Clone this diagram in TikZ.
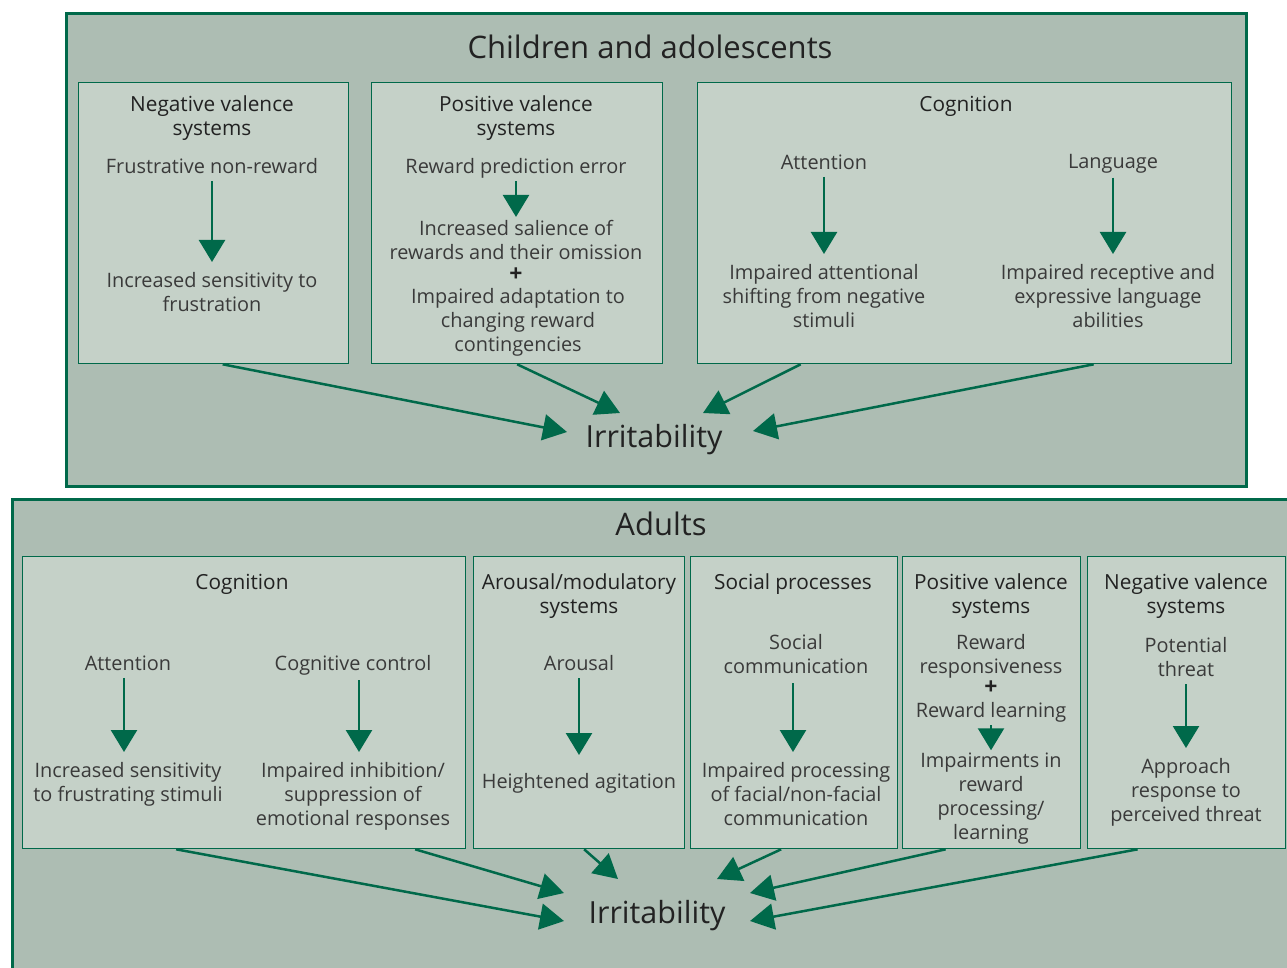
\documentclass[tikz,border=0pt]{standalone}
\usepackage{fontspec}
\setmainfont{Open Sans}
\usetikzlibrary{positioning, calc, arrows.meta}

\definecolor{dgreen}{HTML}{00694A}
\definecolor{outfill}{HTML}{ADBDB3}
\definecolor{infill}{HTML}{C5D1C8}
\definecolor{headtxt}{HTML}{222222}
\definecolor{bodytxt}{HTML}{3A3A3A}

\begin{document}
\begin{tikzpicture}[x=1pt, y=-1pt,
		outer/.style={rectangle, draw=dgreen, line width=3pt, fill=outfill, inner sep=0pt, anchor=north west},
		panel/.style={rectangle, draw=dgreen, line width=1.3pt, fill=infill, inner sep=0pt, anchor=north west},
		head/.style={font=\fontsize{20.8}{24}\selectfont, text=headtxt, align=center, inner sep=0pt, text depth=4.5pt, yshift=-3pt},
		txt/.style={font=\fontsize{19.9}{24}\selectfont, text=bodytxt, align=center, inner sep=0pt, text depth=4.5pt, yshift=-3pt},
		title/.style={font=\fontsize{31}{36}\selectfont, text=headtxt, inner sep=0pt},
		irrlabel/.style={font=\fontsize{30.5}{36}\selectfont, text=headtxt, inner sep=0pt},
		plus/.style={font=\fontsize{23}{23}\selectfont\bfseries, text=headtxt, inner sep=0pt},
		down/.style={-{Triangle[length=22pt, width=26pt]}, line width=2.5pt, draw=dgreen},
		toirr/.style={-{Triangle[length=24pt, width=26pt]}, line width=2.5pt, draw=dgreen}
	]
	\useasboundingbox (0,0) rectangle (1287,967);

	% children and adolescents
	\node[outer, minimum width=1180, minimum height=473] (cy) at (65,12) {};
	\node[title] (cytitle) at (650,47) {Children and adolescents};

	\node[panel, minimum width=270, minimum height=281] (nvs) at (78,82) {};
	\node[panel, minimum width=291, minimum height=281] (pvs) at (371,82) {};
	\node[panel, minimum width=534, minimum height=281] (cog) at (697,82) {};

	\node[head] (nvshead) at (212,115) {Negative valence\\systems};
	\node[txt] (fnr) at (212,165) {Frustrative non-reward};
	\node[txt] (isf) at (212,291) {Increased sensitivity to\\frustration};

	\node[head] (pvshead) at (516,115) {Positive valence\\systems};
	\node[txt] (rpe) at (516,165) {Reward prediction error};
	\node[txt] (isr) at (516,239) {Increased salience of\\rewards and their omission};
	\node[plus] (pplus) at (516,275) {+};
	\node[txt] (iad) at (518,319) {Impaired adaptation to\\changing reward\\contingencies};

	\node[head] (coghead) at (966,103) {Cognition};
	\node[txt] (att) at (824,161) {Attention};
	\node[txt] (ias) at (824,295) {Impaired attentional\\shifting from negative\\stimuli};
	\node[txt] (lang) at (1113,161) {Language};
	\node[txt] (irl) at (1108,295) {Impaired receptive and\\expressive language\\abilities};

	\node[irrlabel] (irrA) at (654,440) {Irritability};

	% adults
	\node[outer, minimum width=1300, minimum height=500] (ad) at (11,498) {};
	\node[title] (adtitle) at (661,524) {Adults};

	\node[panel, minimum width=443, minimum height=292] (acog) at (22,556) {};
	\node[panel, minimum width=211, minimum height=292] (ams) at (473,556) {};
	\node[panel, minimum width=207, minimum height=292] (asp) at (690,556) {};
	\node[panel, minimum width=178, minimum height=292] (apvs) at (902,556) {};
	\node[panel, minimum width=198, minimum height=292] (anvs) at (1087,556) {};

	\node[head] (acoghead) at (242,581) {Cognition};
	\node[txt] (aatt) at (128,662) {Attention};
	\node[txt] (isfs) at (128,781) {Increased sensitivity\\to frustrating stimuli};
	\node[txt] (cc) at (353,662) {Cognitive control};
	\node[txt] (iis) at (353,793) {Impaired inhibition/\\suppression of\\emotional responses};

	\node[head] (amshead) at (579,593) {Arousal/modulatory\\systems};
	\node[txt] (arou) at (579,662) {Arousal};
	\node[txt] (hag) at (579,780) {Heightened agitation};

	\node[head] (asphead) at (793,581) {Social processes};
	\node[txt] (scom) at (796,653) {Social\\communication};
	\node[txt] (ipf) at (796,793) {Impaired processing\\of facial/non-facial\\communication};

	\node[head] (apvshead) at (991,593) {Positive valence\\systems};
	\node[txt] (rresp) at (991,653) {Reward\\responsiveness};
	\node[plus] (aplus) at (991,688) {+};
	\node[txt] (rlearn) at (991,709) {Reward learning};
	\node[txt] (irp) at (991,795) {Impairments in\\reward\\processing/\\learning};

	\node[head] (anvshead) at (1186,593) {Negative valence\\systems};
	\node[txt] (pth) at (1186,656) {Potential\\threat};
	\node[txt] (arpt) at (1186,789) {Approach\\response to\\perceived threat};

	\node[irrlabel] (irrB) at (657,916) {Irritability};

	% arrows inside the panels
	\draw[down, shorten <=3pt, shorten >=10pt] (fnr.south) -- (isf.north);
	\draw[down, shorten <=3pt, shorten >=3pt] (rpe.south) -- (isr.north);
	\draw[down, shorten <=3pt, shorten >=10pt] (att.south) -- (ias.north);
	\draw[down, shorten <=4pt, shorten >=10pt] (lang.south) -- (lang.south |- irl.north);
	\draw[down, shorten <=3pt, shorten >=10pt] ($(aatt.south)+(-4,0)$) -- ($(aatt.south |- isfs.north)+(-4,0)$);
	\draw[down, shorten <=5pt, shorten >=10pt] ($(cc.south)+(6,0)$) -- ($(cc.south |- iis.north)+(6,0)$);
	\draw[down, shorten <=3pt, shorten >=18pt] (arou.south) -- (hag.north);
	\draw[down, shorten <=5pt, shorten >=10pt] ($(scom.south)+(-3,0)$) -- ($(scom.south |- ipf.north)+(-3,0)$);
	\draw[down, shorten <=3pt, shorten >=2pt] (rlearn.south) -- (irp.north);
	\draw[down, shorten <=3pt, shorten >=10pt] (pth.south) -- (arpt.north);

	% arrows to irritability
	\foreach \src/\dx/\ex/\ey in {nvs/9/-87/-8, pvs/0/-34/-27, cog/-164/49/-27, cog/129/99/-9}
		\draw[toirr] ($(\src.south)+(\dx,0)$) -- ($(irrA)+(\ex,\ey)$);

	\foreach \src/\dx/\ex/\ey in {acog/-68/-93/5, acog/171/-93/-23, ams/5/-39/-37, asp/-13/60/-37, apvs/-46/93/-23, anvs/-49/93/5}
		\draw[toirr] ($(\src.south)+(\dx,0)$) -- ($(irrB)+(\ex,\ey)$);

\end{tikzpicture}
\end{document}
